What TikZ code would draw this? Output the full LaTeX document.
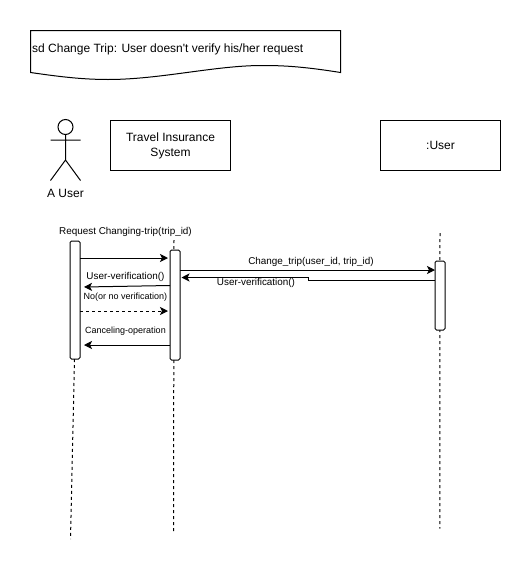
\documentclass[tikz,border=0pt]{standalone}
\usepackage{fontspec}
\setmainfont{Liberation Sans}
\newfontfamily\plainfont{Liberation Sans}
\usetikzlibrary{arrows.meta}
\tikzset{
  x=1pt,y=-1pt,
  line/.style={draw=black,line width=1pt},
  boxnode/.style={draw=black,line width=1pt,fill=white,minimum width=120pt,minimum height=50pt,inner sep=0pt,align=center,font=\fontsize{12}{15}\selectfont},
  activation/.style={draw=black,line width=1pt,fill=white,rounded corners=1.5pt,minimum width=10pt,inner sep=0pt},
  lifeline/.style={draw=black,line width=1pt,dash pattern=on 3pt off 3pt},
  msg/.style={draw=black,line width=1pt,-{Stealth[length=8pt,width=8pt,inset=2pt]}},
  label/.style={inner sep=0pt,font=\fontsize{9.9}{12}\selectfont},
  smalllabel/.style={inner sep=0pt,font=\fontsize{9}{11}\selectfont},
}
\begin{document}
\begin{tikzpicture}
\useasboundingbox (0,0) rectangle (531,571);
\fill[white] (0,0) rectangle (531,571);
% title
\draw[line] (30.5,30.5) -- (340.5,30.5) -- (340.5,72.5) .. controls (300,66) and (280,65.5) .. (262,65.5) .. controls (215,65.5) and (160,79.5) .. (108,79.5) .. controls (80,79.5) and (55,76) .. (30.5,72.5) -- cycle;
\node[anchor=west,inner sep=0pt,font=\plainfont\fontsize{12}{15}\selectfont] (title) at (32,49) {sd Change Trip: User doesn't verify his/her request};
% actor
\coordinate (head) at (65.5,127);
\coordinate (hip) at (65.5,160);
\coordinate (armL) at (50.5,140);
\coordinate (armR) at (80.5,140);
\coordinate (legL) at (50.5,180.5);
\coordinate (legR) at (80.5,180.5);
\node[draw=black,line width=1pt,circle,minimum size=15pt,inner sep=0pt] (headn) at (head) {};
\draw[line] (headn.south) -- (hip) (armL) -- (armR) (legL) -- (hip) -- (legR);
\node[inner sep=0pt,font=\fontsize{12}{15}\selectfont] (auser) at (65.5,193) {A User};
% boxes
\node[boxnode] (sys) at (170.5,145.5) {Travel Insurance\\System};
\node[boxnode] (usr) at (440.5,145.5) {:User};
% lifelines
\coordinate (aM) at (74.5,359);
\coordinate (aB) at (70.5,539);
\coordinate (sT) at (174,240);
\coordinate (sB) at (173.5,531);
\coordinate (uT) at (440,233);
\coordinate (uB) at (439.8,528.5);
\draw[lifeline] (aM) -- (aB);
\draw[lifeline] (sT) -- (sB);
\draw[lifeline] (uT) -- (uB);
% activations
\node[activation,minimum height=118pt] (actA) at (75,300) {};
\node[activation,minimum height=110pt] (actS) at (175,305) {};
\node[activation,minimum height=69pt] (actU) at (440,295.5) {};
% messages
\coordinate (m1a) at (80,258);
\coordinate (m1b) at (168,258);
\draw[msg] (m1a) -- (m1b);
\coordinate (m2a) at (180,270);
\coordinate (m2b) at (435,270);
\draw[msg] (m2a) -- (m2b);
\coordinate (m3a) at (435,280.5);
\coordinate (m3b) at (308.5,280.5);
\coordinate (m3c) at (308.5,277.5);
\coordinate (m3d) at (181.5,277.5);
\draw[msg] (m3a) -- (m3b) -- (m3c) -- (m3d);
\coordinate (m4a) at (170,285.5);
\coordinate (m4b) at (84,287);
\draw[msg] (m4a) -- (m4b);
\coordinate (m5a) at (80,311);
\coordinate (m5b) at (168,311);
\draw[msg,dash pattern=on 3pt off 3pt] (m5a) -- (m5b);
\coordinate (m6a) at (170,345);
\coordinate (m6b) at (84,345);
\draw[msg] (m6a) -- (m6b);
% labels
\node[label] (l1) at (125.5,232) {Request Changing-trip(trip\_id)};
\node[label] (l2) at (311,261.5) {Change\_trip(user\_id, trip\_id)};
\node[label] (l3) at (256,282.5) {User-verification()};
\node[label] (l4) at (125.5,276.5) {User-verification()};
\node[smalllabel] (l5) at (125.5,297) {No(or no verification)};
\node[smalllabel] (l6) at (125.5,331.5) {Canceling-operation};
\end{tikzpicture}
\end{document}
